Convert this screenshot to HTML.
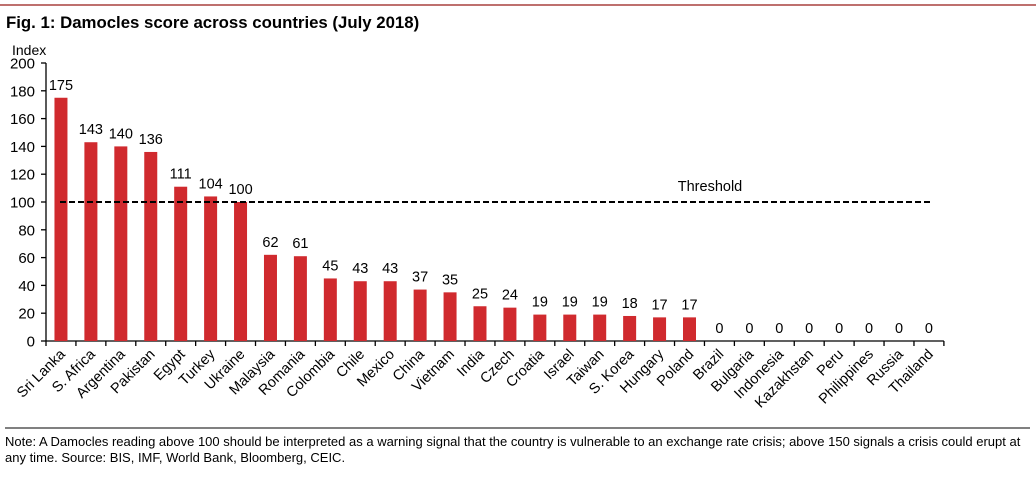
<!DOCTYPE html>
<html><head><meta charset="utf-8"><style>
body{margin:0;background:#fff;font-family:"Liberation Sans",Arial,sans-serif;}
svg text{font-family:"Liberation Sans",Arial,sans-serif;}
</style></head><body>
<svg id="chart" width="1036" height="474">
<line x1="0" y1="5" x2="1036" y2="5" stroke="#a8403f" stroke-width="1.5"/>
<text x="6" y="28" font-size="16.8" font-weight="bold">Fig. 1: Damocles score across countries (July 2018)</text>
<text x="12" y="55" font-size="14">Index</text>
<g id="plot"></g>
<line x1="5" y1="428" x2="1030" y2="428" stroke="#000" stroke-width="1"/>
<text x="5" y="446" font-size="13">Note: A Damocles reading above 100 should be interpreted as a warning signal that the country is vulnerable to an exchange rate crisis; above 150 signals a crisis could erupt at</text>
<text x="5" y="462" font-size="13">any time. Source: BIS, IMF, World Bank, Bloomberg, CEIC.</text>
</svg>
<script>
const categories=["Sri Lanka","S. Africa","Argentina","Pakistan","Egypt","Turkey","Ukraine","Malaysia","Romania","Colombia","Chile","Mexico","China","Vietnam","India","Czech","Croatia","Israel","Taiwan","S. Korea","Hungary","Poland","Brazil","Bulgaria","Indonesia","Kazakhstan","Peru","Philippines","Russia","Thailand"];
const values=[175,143,140,136,111,104,100,62,61,45,43,43,37,35,25,24,19,19,19,18,17,17,0,0,0,0,0,0,0,0];
const yTicks=[0,20,40,60,80,100,120,140,160,180,200];
const threshold=100;
const NS="http://www.w3.org/2000/svg";
const g=document.getElementById('plot');
const x0=46,step=29.93,yBase=341,yTop=63;
const y=v=>yBase-(v/200)*(yBase-yTop);
const xc=i=>x0+step*(i+0.5);
function mk(t,a){const e=document.createElementNS(NS,t);for(const k in a)e.setAttribute(k,a[k]);g.appendChild(e);return e;}
let e=mk('line',{x1:x0,y1:yTop,x2:x0,y2:yBase,stroke:'#000','stroke-width':1.3});


e=mk('line',{x1:x0,y1:yBase,x2:x0+step*categories.length,y2:yBase,stroke:'#000','stroke-width':1.3});


yTicks.forEach(v=>{
 let t=mk('line',{x1:x0-5,y1:y(v),x2:x0,y2:y(v),stroke:'#000','stroke-width':1.3});
 
 
 let l=mk('text',{x:x0-11,y:y(v)+5.5,'font-size':15,'text-anchor':'end'});l.textContent=v;
 
 
});
for(let i=0;i<=categories.length;i++){
 let t=mk('line',{x1:x0+step*i,y1:yBase,x2:x0+step*i,y2:yBase+5,stroke:'#000','stroke-width':1.3});
 
 
}
categories.forEach((c,i)=>{
 const v=values[i];
 if(v>0){let b=mk('rect',{x:xc(i)-6.5,y:y(v),width:13,height:yBase-y(v),fill:'#d02a2e'});
 
 }
 let vl=mk('text',{x:xc(i),y:y(v)-8,'font-size':14.5,'text-anchor':'middle'});vl.textContent=v;
 
 
 let cl=mk('text',{x:0,y:0,'font-size':14.5,'text-anchor':'end',transform:`translate(${xc(i)+5},${yBase+14}) rotate(-45)`});cl.textContent=c;
 
 
});
e=mk('line',{x1:60,y1:y(threshold),x2:930,y2:y(threshold),stroke:'#000','stroke-width':2,'stroke-dasharray':'6,3'});


e=mk('text',{x:710,y:y(threshold)-11,'font-size':14.5,'text-anchor':'middle'});e.textContent='Threshold';


</script>
</body></html>
